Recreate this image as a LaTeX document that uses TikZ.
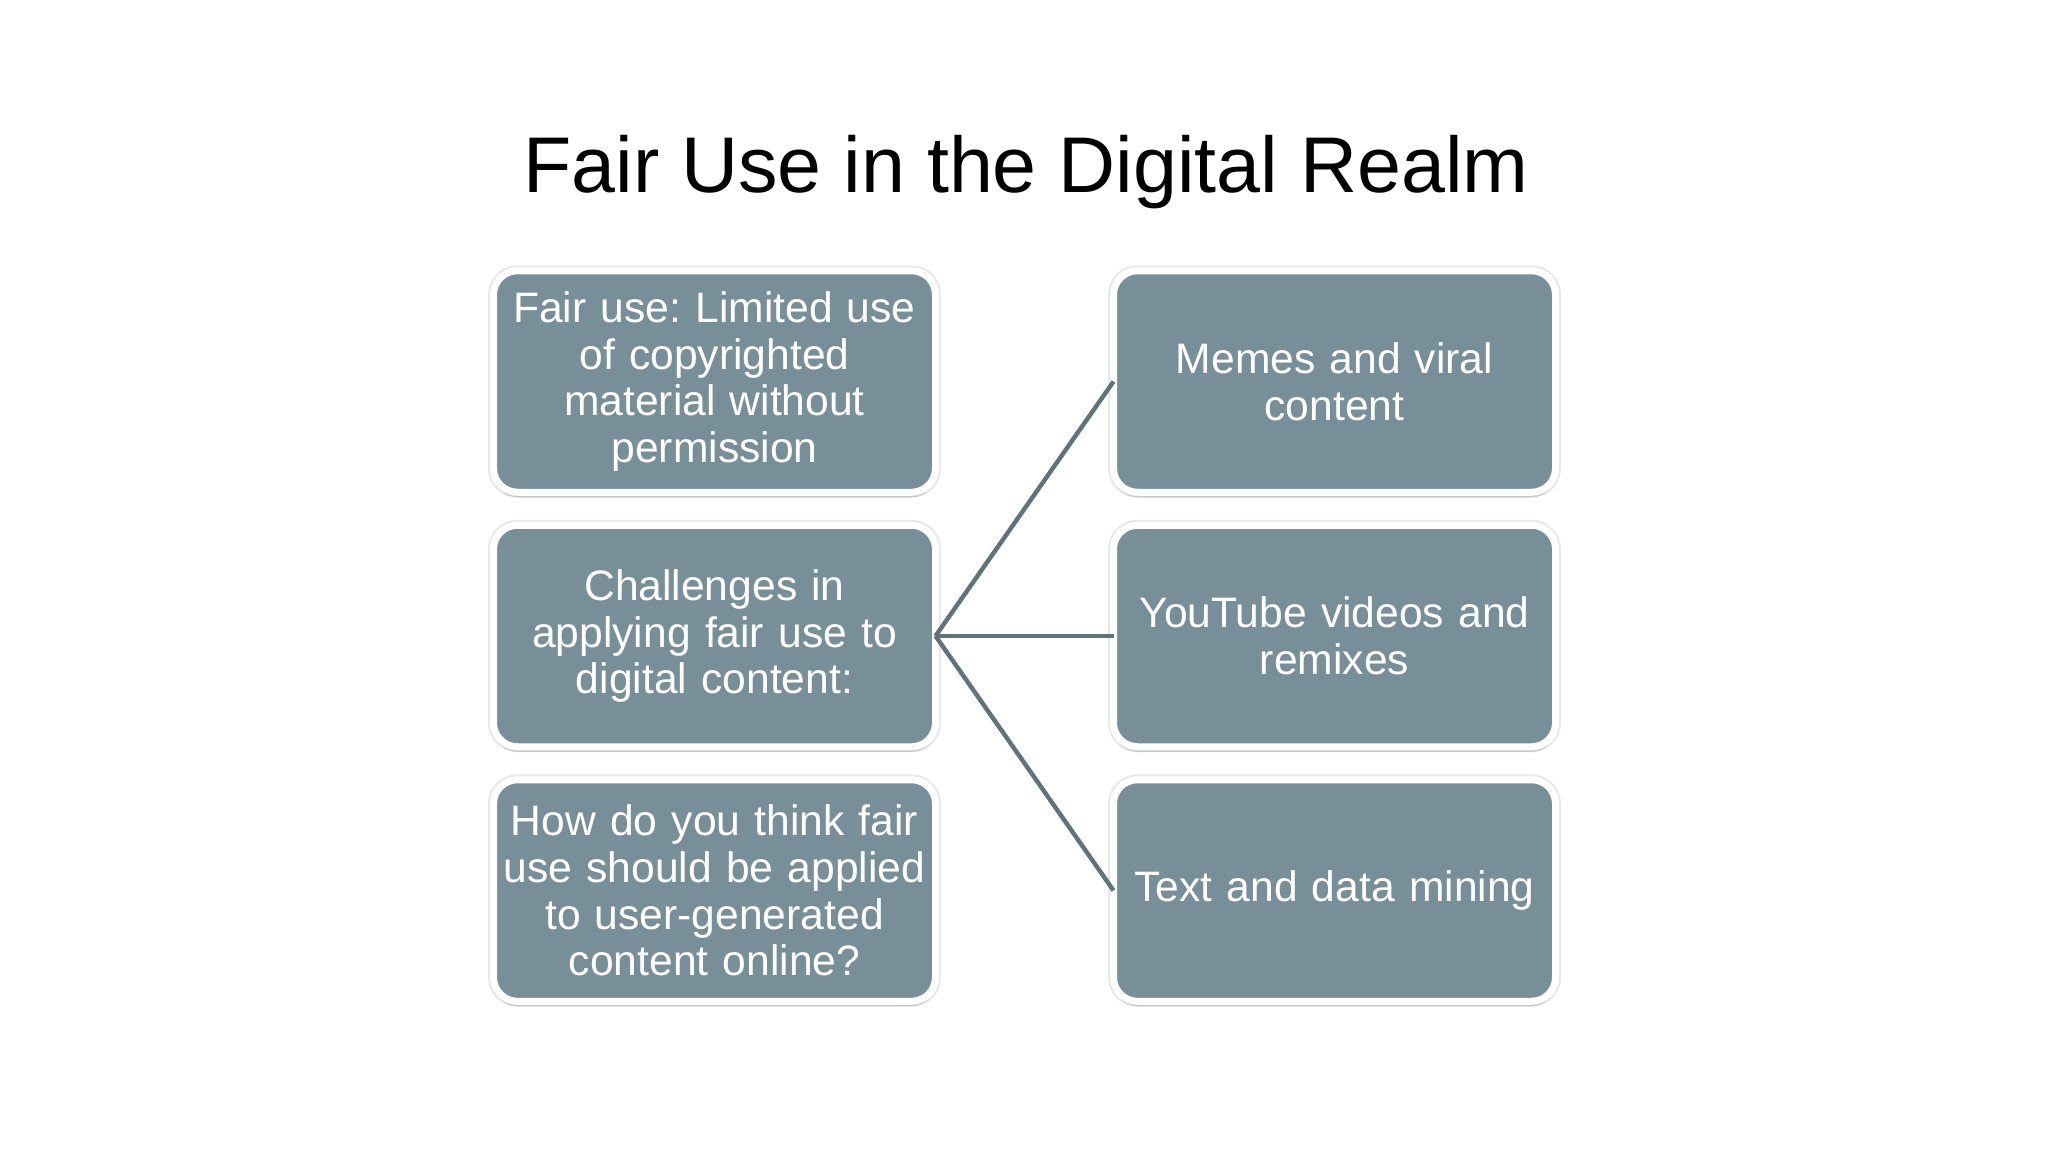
\documentclass[tikz,border=0pt]{standalone}
\usepackage{fontspec}
\setmainfont{Liberation Sans}
\usepackage{tikz}
\usetikzlibrary{positioning, shadows}
\definecolor{boxfill}{HTML}{788F9A}
\definecolor{linkline}{HTML}{5F7379}
\frenchspacing

\begin{document}
\begin{tikzpicture}[x=0.5pt, y=-0.5pt, box/.style={rectangle, rounded corners=12pt, draw=white, line width=3.5pt, fill=boxfill, text=white, outer sep=0pt, minimum width=221pt, minimum height=110.75pt, text width=212pt, align=center, font=\fontsize{21.3pt}{23.4pt}\selectfont, preaction={draw=black!9, line width=5.5pt}, drop shadow={shadow xshift=0pt, shadow yshift=-2.5pt, fill=black, opacity=0.13}}, titlenode/.style={font=\fontsize{39.5pt}{44pt}\selectfont, anchor=base}, link/.style={draw=linkline, line width=2.2pt}]
    \useasboundingbox (0,0) rectangle (2048,1152);

    %Nodes
    \node[titlenode](title) at (1026,192){Fair Use in the Digital Realm};

    \node[box](fair_use) at (714.5,381.5){Fair use: Limited use\\of copyrighted\\material without\\permission};
    \node[box](challenges)[below=16.5pt of fair_use]{Challenges in\\applying fair use to\\digital content:};
    \node[box](question)[below=16.5pt of challenges]{How do you think fair\\use should be applied\\to user-generated\\content online?};

    \node[box](memes)[right=89pt of fair_use]{Memes and viral\\content};
    \node[box](youtube)[right=89pt of challenges]{YouTube videos and\\remixes};
    \node[box](mining)[right=89pt of question]{Text and data mining};

    %Lines
    \draw[link] (challenges.east) -- (memes.west);
    \draw[link] (challenges.east) -- (youtube.west);
    \draw[link] (challenges.east) -- (mining.west);

\end{tikzpicture}
\end{document}
